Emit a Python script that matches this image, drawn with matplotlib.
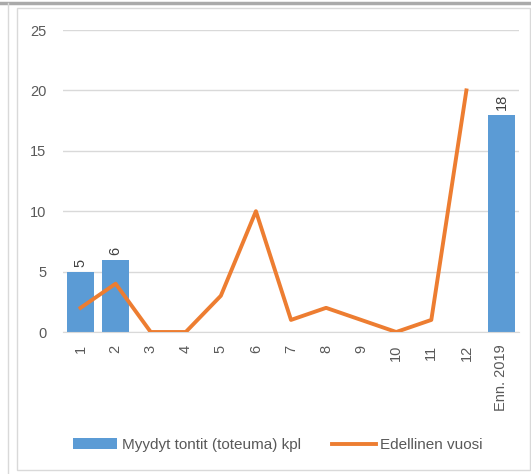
import numpy as np
import matplotlib.pyplot as plt
from matplotlib.lines import Line2D
from matplotlib.patches import Rectangle

# data
categories = ['1', '2', '3', '4', '5', '6', '7', '8', '9', '10', '11', '12', 'Enn. 2019']
sold = [5, 6, None, None, None, None, None, None, None, None, None, None, 18]
previous_year = [2, 4, 0, 0, 3, 10, 1, 2, 1, 0, 1, 20]

bar_color = '#5B9BD5'
line_color = '#ED7D31'
text_color = '#595959'

plt.rcParams['font.family'] = ['Liberation Sans', 'DejaVu Sans']

fig = plt.figure(figsize=(5.31, 4.74), dpi=100)

# screenshot frame bits
fig.add_artist(Line2D([0, 1], [1 - 3 / 474, 1 - 3 / 474], color='#aaaaaa', lw=2.5))
fig.add_artist(Line2D([8 / 531, 8 / 531], [0, 1 - 3 / 474], color='#d9d9d9', lw=1))
fig.add_artist(Rectangle((17 / 531, 4 / 474), 513 / 531, 462 / 474, fill=False,
                         edgecolor='#d9d9d9', lw=1))

ax = fig.add_axes([63 / 531, 1 - 332 / 474, 456 / 531, 302 / 474])

x = np.arange(len(categories))
bar_x = [i for i, v in enumerate(sold) if v is not None]
bar_v = [v for v in sold if v is not None]
bars = ax.bar(bar_x, bar_v, width=0.78, color=bar_color, zorder=2,
              label='Myydyt tontit (toteuma) kpl')
for b, v in zip(bars, bar_v):
    ax.text(b.get_x() + b.get_width() / 2, v + 0.4, str(v), rotation=90,
            ha='center', va='bottom', fontsize=10.5, color='#404040')

line, = ax.plot(x[:len(previous_year)], previous_year, color=line_color, lw=2.8,
                zorder=3, label='Edellinen vuosi', solid_joinstyle='round')

ax.set_xlim(-0.5, len(categories) - 0.5)
ax.set_ylim(0, 25)
ax.set_yticks(range(0, 26, 5))
ax.set_xticks(x)
ax.set_xticklabels(categories, rotation=90)
ax.tick_params(axis='both', length=0, labelsize=10.5, colors=text_color)
ax.tick_params(axis='x', pad=9)
ax.tick_params(axis='y', pad=12)
ax.grid(axis='y', color='#d9d9d9', lw=1, zorder=0)
for s in ['top', 'right', 'left']:
    ax.spines[s].set_visible(False)
ax.spines['bottom'].set_color('#d9d9d9')

fig.legend([bars, line], ['Myydyt tontit (toteuma) kpl', 'Edellinen vuosi'],
           loc='center', bbox_to_anchor=(278 / 531, 1 - 445 / 474), ncol=2,
           frameon=False, fontsize=11, handlelength=2.9, handletextpad=0.3,
           columnspacing=2.0, labelcolor=text_color)

fig.savefig('out.png', dpi=100)
